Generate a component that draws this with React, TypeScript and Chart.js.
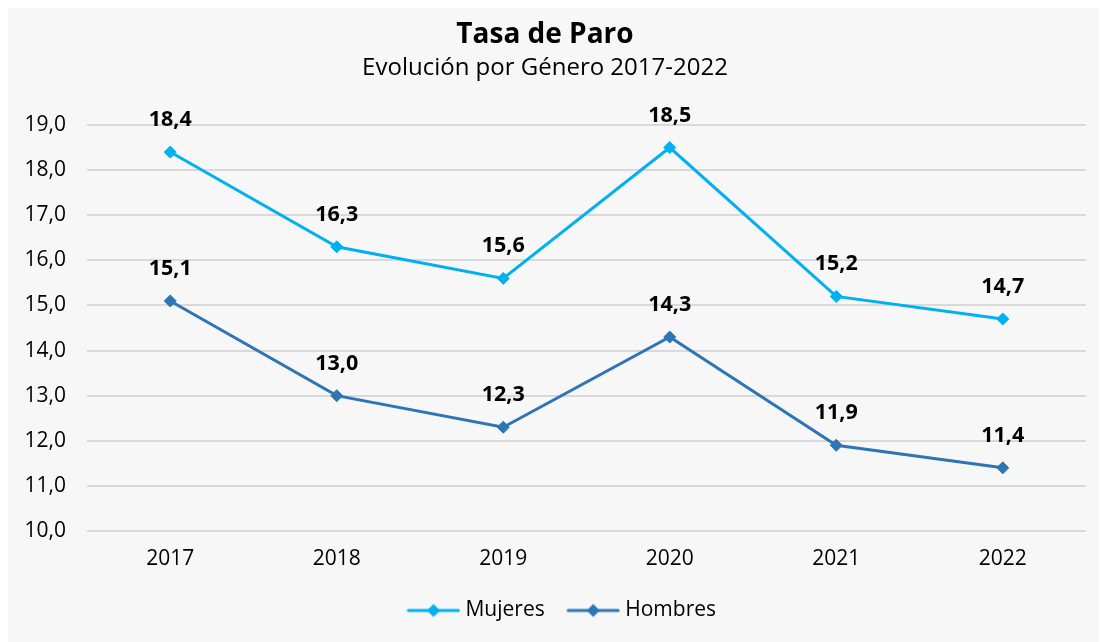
import React, { useEffect, useRef } from "react";
import { Chart, registerables } from "chart.js";

Chart.register(...registerables);

const years = ["2017", "2018", "2019", "2020", "2021", "2022"];
const mujeres = [18.4, 16.3, 15.6, 18.5, 15.2, 14.7];
const hombres = [15.1, 13.0, 12.3, 14.3, 11.9, 11.4];
const yTicks = [10, 11, 12, 13, 14, 15, 16, 17, 18, 19];
const titleText = "Tasa de Paro";
const subtitleText = "Evolución por Género 2017-2022";

const FONT = "'Open Sans', 'Noto Sans', sans-serif";
const C_MUJ = "#00b0f0";
const C_HOM = "#2e75b6";

const fmt = (v: number) => v.toFixed(1).replace(".", ",");

function legendIcon(color: string): HTMLCanvasElement {
  const c = document.createElement("canvas");
  c.width = 54;
  c.height = 16;
  const ctx = c.getContext("2d")!;
  ctx.strokeStyle = color;
  ctx.lineWidth = 3;
  ctx.lineCap = "round";
  ctx.beginPath();
  ctx.moveTo(2, 8);
  ctx.lineTo(52, 8);
  ctx.stroke();
  ctx.fillStyle = color;
  ctx.beginPath();
  ctx.moveTo(27, 1.5);
  ctx.lineTo(33.5, 8);
  ctx.lineTo(27, 14.5);
  ctx.lineTo(20.5, 8);
  ctx.closePath();
  ctx.fill();
  return c;
}

const titlePlugin = {
  id: "customTitle",
  afterLayout(chart: any) {
    if (chart.legend) {
      chart.legend.left += 35;
    }
  },
  afterDraw(chart: any) {
    const ctx = chart.ctx;
    ctx.save();
    ctx.fillStyle = "#000";
    ctx.textAlign = "center";
    ctx.textBaseline = "alphabetic";
    ctx.font = `bold 28px ${FONT}`;
    ctx.fillText(titleText, 538, 38);
    ctx.font = `24px ${FONT}`;
    ctx.fillText(subtitleText, 538, 70);
    ctx.restore();
  },
};

const labelPlugin = {
  id: "pointLabels",
  afterDatasetsDraw(chart: any) {
    const ctx = chart.ctx;
    ctx.save();
    ctx.fillStyle = "#000";
    ctx.textAlign = "center";
    ctx.textBaseline = "alphabetic";
    ctx.font = `bold 21.5px ${FONT}`;
    chart.data.datasets.forEach((ds: any, i: number) => {
      const meta = chart.getDatasetMeta(i);
      meta.data.forEach((pt: any, j: number) => {
        ctx.fillText(fmt(ds.data[j]), pt.x, pt.y - 26);
      });
    });
    ctx.restore();
  },
};

export default function App() {
  const ref = useRef<HTMLCanvasElement>(null);
  useEffect(() => {
    if (!ref.current) return;
    const chart = new Chart(ref.current, {
      type: "line",
      data: {
        labels: years,
        datasets: [
          {
            label: "Mujeres",
            data: mujeres,
            borderColor: C_MUJ,
            backgroundColor: C_MUJ,
            borderWidth: 3,
            pointStyle: "rectRot",
            pointRadius: 6,
            pointBorderWidth: 1,
            tension: 0,
            clip: false as any,
          },
          {
            label: "Hombres",
            data: hombres,
            borderColor: C_HOM,
            backgroundColor: C_HOM,
            borderWidth: 3,
            pointStyle: "rectRot",
            pointRadius: 6,
            pointBorderWidth: 1,
            tension: 0,
            clip: false as any,
          },
        ],
      },
      options: {
        animation: false,
        responsive: false,
        maintainAspectRatio: false,
        layout: { padding: { top: 120, right: 21, bottom: 11, left: 0 } },
        plugins: {
          title: { display: false },
          tooltip: { enabled: false },
          legend: {
            position: "bottom",
            labels: {
              usePointStyle: true,
              pointStyleWidth: 43,
              padding: 27,
              color: "#000",
              font: { family: FONT, size: 21 },
              generateLabels: (chart: any) =>
                chart.data.datasets.map((ds: any, i: number) => ({
                  text: ds.label,
                  pointStyle: legendIcon(ds.borderColor),
                  fillStyle: ds.borderColor,
                  strokeStyle: ds.borderColor,
                  lineWidth: 0,
                  datasetIndex: i,
                  hidden: false,
                  fontColor: "#000",
                })),
            },
          },
        },
        scales: {
          x: {
            offset: true,
            grid: { display: false, drawTicks: false },
            border: { display: false },
            ticks: {
              color: "#000",
              font: { family: FONT, size: 21 },
              padding: 15,
            },
            afterFit: (s: any) => {
              s.height = 42;
            },
          },
          y: {
            min: 10,
            max: 19,
            afterBuildTicks: (s: any) => {
              s.ticks = yTicks.map((v) => ({ value: v }));
            },
            grid: { color: "#d9d9d9", lineWidth: 2, drawTicks: false },
            border: { display: false },
            ticks: {
              color: "#000",
              font: { family: FONT, size: 21 },
              padding: 21,
              callback: (v: any) => fmt(Number(v)),
            },
            afterFit: (s: any) => {
              s.width = 80;
            },
          },
        },
      },
      plugins: [titlePlugin, labelPlugin],
    });
    return () => chart.destroy();
  }, []);
  return (
    <div
      style={{
        marginLeft: -1,
        marginTop: -3,
        width: 1100,
        height: 637,
        background: "#f7f7f7",
      }}
    >
      <canvas ref={ref} width={1100} height={637} style={{ display: "block" }} />
    </div>
  );
}
